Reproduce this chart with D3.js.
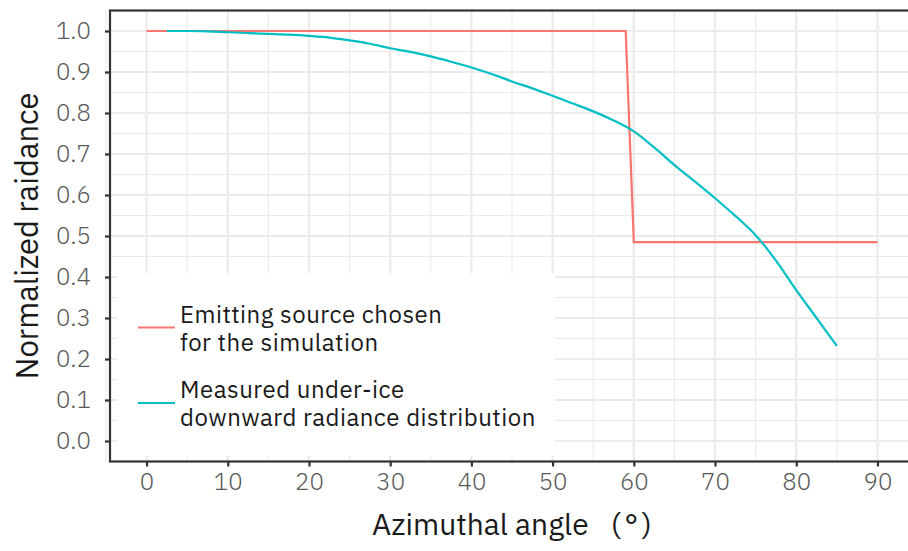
<!DOCTYPE html>
<html>
<head>
<meta charset="utf-8">
<script src="https://cdn.jsdelivr.net/npm/d3@7"></script>
<style>
body{margin:0;background:#fff}
text{font-family:"IBM Plex Sans",Roboto,sans-serif}
</style>
</head>
<body>
<svg id="chart" width="908" height="551"></svg>
<script>
// emitting source used in the simulation (step at 60 deg)
var sourceX = [0, 59, 60, 90];
var sourceY = [1.0, 1.0, 0.485, 0.485];

// measured under-ice radiance
var measuredX = [2.5, 5, 7.5, 10, 12.5, 15, 17.5, 20, 22.5, 25, 27.5, 30, 32.5, 35, 37.5, 40, 42.5, 45,
	47.5, 50, 52.5, 55, 57.5, 60, 62.5, 65, 67.5, 70, 72.5, 75, 77.5, 80, 82.5, 85];
var measuredY = [1.000, 1.000, 0.999, 0.997, 0.995, 0.993, 0.991, 0.988, 0.984, 0.977, 0.969, 0.958, 0.949, 0.938, 0.925, 0.911, 0.895, 0.877,
	0.860, 0.842, 0.823, 0.804, 0.782, 0.755, 0.716, 0.673, 0.633, 0.592, 0.549, 0.502, 0.440, 0.368, 0.300, 0.232];

var xTicks = [0, 10, 20, 30, 40, 50, 60, 70, 80, 90];
var yTicks = [0, 0.1, 0.2, 0.3, 0.4, 0.5, 0.6, 0.7, 0.8, 0.9, 1.0];
var seriesColors = ["#F8766D", "#00BFC4"];
var legendLabels = [["Emitting source chosen", "for the simulation"], ["Measured under-ice", "downward radiance distribution"]];

var svg = d3.select("#chart");
var pLeft = 110, pTop = 10.5, pRight = 914, pBottom = 461.5;

var x = d3.scaleLinear().domain([-4.5, 94.5]).range([pLeft, pRight]);
var y = d3.scaleLinear().domain([-0.05, 1.05]).range([pBottom, pTop]);

var grid = svg.append("g");
// minor grid
var xMinor = d3.range(-5, 100, 10);
var yMinor = d3.range(0.05, 1.0, 0.1);
grid.selectAll(".xminor").data(xMinor).enter().append("line")
	.attr("x1", d => x(d)).attr("x2", d => x(d)).attr("y1", pTop).attr("y2", pBottom)
	.attr("stroke", "#EBEBEB").attr("stroke-width", 1.1);
grid.selectAll(".yminor").data(yMinor).enter().append("line")
	.attr("y1", d => y(d)).attr("y2", d => y(d)).attr("x1", pLeft).attr("x2", pRight)
	.attr("stroke", "#EBEBEB").attr("stroke-width", 1.1);
grid.selectAll(".xmajor").data(xTicks).enter().append("line")
	.attr("x1", d => x(d)).attr("x2", d => x(d)).attr("y1", pTop).attr("y2", pBottom)
	.attr("stroke", "#EBEBEB").attr("stroke-width", 2.2);
grid.selectAll(".ymajor").data(yTicks).enter().append("line")
	.attr("y1", d => y(d)).attr("y2", d => y(d)).attr("x1", pLeft).attr("x2", pRight)
	.attr("stroke", "#EBEBEB").attr("stroke-width", 2.2);

var line = d3.line().x(d => x(d[0])).y(d => y(d[1]));

svg.append("path").datum(d3.zip(sourceX, sourceY))
	.attr("d", line).attr("fill", "none")
	.attr("stroke", seriesColors[0]).attr("stroke-width", 2.2);

svg.append("path").datum(d3.zip(measuredX, measuredY))
	.attr("d", line.curve(d3.curveMonotoneX)).attr("fill", "none")
	.attr("stroke", seriesColors[1]).attr("stroke-width", 2.2);

// legend sits inside the panel
var lg = svg.append("g");
lg.append("rect").attr("x", 117).attr("y", 273).attr("width", 438).attr("height", 183).attr("fill", "#fff");
legendLabels.forEach(function(lines, i){
	var cy = 327.5 + i * 75.5;
	lg.append("line").attr("x1", 138).attr("x2", 175).attr("y1", cy).attr("y2", cy)
		.attr("stroke", seriesColors[i]).attr("stroke-width", 2.2);
	lines.forEach(function(s, j){
		lg.append("text").attr("x", 180).attr("y", cy - 5 + j * 28)
			.attr("font-size", 24).attr("letter-spacing", 0.5).attr("fill", "#1A1A1A").text(s);
	});
});

// panel border
svg.append("rect").attr("x", pLeft).attr("y", pTop).attr("width", pRight - pLeft).attr("height", pBottom - pTop)
	.attr("fill", "none").attr("stroke", "#333333").attr("stroke-width", 2.2);

var xAxis = svg.append("g").attr("transform", "translate(0," + pBottom + ")")
	.call(d3.axisBottom(x).tickValues(xTicks).tickSize(5).tickPadding(6).tickFormat(d3.format("d")));
var yAxis = svg.append("g").attr("transform", "translate(" + pLeft + ",0)")
	.call(d3.axisLeft(y).tickValues(yTicks).tickSize(5).tickPadding(14).tickFormat(d3.format(".1f")));
[xAxis, yAxis].forEach(function(a){
	a.select(".domain").remove();
	a.selectAll(".tick line").attr("stroke", "#333333").attr("stroke-width", 2.2);
	a.selectAll(".tick text").attr("fill", "#595959").attr("font-size", 24)
		.style("font-family", "'IBM Plex Sans',Roboto,sans-serif").style("font-weight", 300);
});

svg.append("text").attr("x", (pLeft + pRight) / 2).attr("y", 535).attr("text-anchor", "middle")
	.attr("font-size", 30).attr("fill", "#1A1A1A").text("Azimuthal angle \u2002(\u2009\u00B0\u2009)");

svg.append("text").attr("transform", "translate(38," + ((pTop + pBottom) / 2) + ") rotate(-90)")
	.attr("text-anchor", "middle").attr("font-size", 31).attr("fill", "#1A1A1A").text("Normalized raidance");
</script>
</body>
</html>
